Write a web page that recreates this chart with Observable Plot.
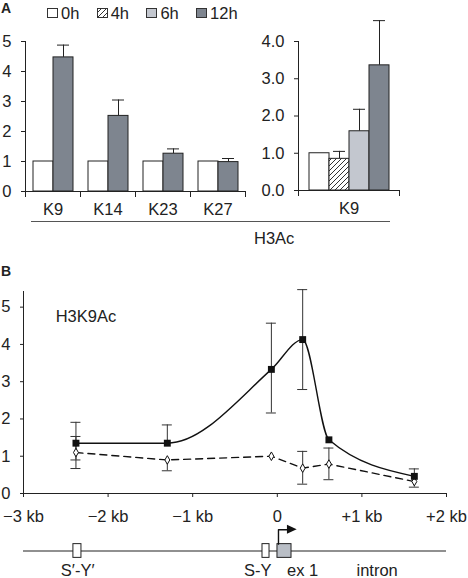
<!DOCTYPE html>
<html><head><meta charset="utf-8">
<script src="https://cdn.jsdelivr.net/npm/d3@7"></script>
<script src="https://cdn.jsdelivr.net/npm/@observablehq/plot@0.6"></script>
<style>
body{margin:0;background:#fff;font-family:"Liberation Sans",Arial,sans-serif;color:#222;}
#fig{position:relative;width:468px;height:578px;overflow:hidden;background:#fff}
.panel{font-weight:bold;font-size:14px;line-height:14px}
#legend{display:flex;font-size:16.5px;line-height:18px;white-space:nowrap}
#legend .item{display:inline-flex;align-items:center;width:49.7px}
#legend svg{margin-right:3px;display:block}
</style></head><body><div id="fig"></div>
<script>
// ---- Panel A (left): fold change per lysine, 0h vs 12h
const groupsA = ["K9", "K14", "K23", "K27"];
const valuesA0h = [1, 1, 1, 1];
const valuesA12h = [4.47, 2.52, 1.26, 0.98];
const errA12h = [4.88, 3.05, 1.42, 1.10];
const yTicksA = [0, 1, 2, 3, 4, 5];

// ---- Panel A (right): K9 time course
const groupK9 = ["K9"];
const timesK9 = ["0h", "4h", "6h", "12h"];
const valuesK9 = [1.0, 0.85, 1.59, 3.36];
const errK9 = [null, 1.05, 2.18, 4.56];
const yTicksK9 = [0, 1, 2, 3, 4];

// ---- Legend
const legendTimes = ["0h", "4h", "6h", "12h"];
const legendFills = ["#ffffff", "url(#hatch)", "#c3c7cf", "#7e858f"];

// ---- Panel B: H3K9Ac across the promoter
const posKb = [-2.38, -1.30, -0.07, 0.30, 0.61, 1.62];
const h3k9_12h = [1.35, 1.35, 3.33, 4.13, 1.44, 0.46];
const h3k9_12h_lo = [0.90, null, 2.16, 2.79, null, null];
const h3k9_12h_hi = [1.91, 1.84, 4.57, 5.47, null, 0.66];
const h3k9_0h = [1.10, 0.90, 1.00, 0.68, 0.79, 0.32];
const h3k9_0h_lo = [0.67, 0.61, null, 0.25, 0.37, 0.17];
const h3k9_0h_hi = [1.53, null, null, 1.13, 1.22, null];
const xTickValues = [-3, -2, -1, 0, 1, 2];
const xTickLabels = ["\u22123 kb", "\u22122 kb", "\u22121 kb", "0", "+1 kb", "+2 kb"];
const yTicksB = [0, 1, 2, 3, 4, 5];
const labelB = ["H3K9Ac"];
const labelBPos = [-2.62, 4.73];

// ---- Gene diagram
const featNames = ["S\u2032-Y\u2032", "S-Y", "ex 1"];
const featStart = [-2.41, -0.175, 0.002];
const featEnd = [-2.315, -0.092, 0.168];
const featFill = ["#ffffff", "#ffffff", "#b9bec6"];
const geneLabels = ["S\u2032-Y\u2032", "S-Y", "ex 1", "intron"];
const geneLabelX = [-2.36, -0.23, 0.30, 1.18];
const arrowX = [0.014, 0.014, 0.13];
const arrowY = [0.5, 1.55, 1.55];
const arrowHeadX = [0.12, 0.235];
const arrowHeadY1 = [1.22, 1.55];
const arrowHeadY2 = [1.88, 1.55];

const FONT = '"Liberation Sans", Arial, sans-serif';
const FS = "16.5px";
const ink = "#222";
const baseStyle = {fontFamily: FONT, fontSize: FS, color: ink, background: "transparent", overflow: "visible"};
const fig = document.getElementById("fig");

function place(el, left, top) {
  el.style.position = "absolute";
  el.style.left = left + "px";
  el.style.top = top + "px";
  fig.appendChild(el);
  return el;
}

function barPanel(rows, groups, times, yTicks, yFormat, d) {
  return Plot.plot({
    width: d.width, height: 225, marginTop: 41, marginBottom: d.mb,
    marginLeft: d.ml, marginRight: d.mr,
    style: baseStyle,
    facet: {data: rows, x: "group"},
    fx: {domain: groups, padding: 0, axis: "bottom", tickSize: 0, tickPadding: 12, label: null},
    x: {domain: times, paddingInner: 0, paddingOuter: d.po, axis: null},
    y: {domain: [yTicks[0], yTicks[yTicks.length - 1]], ticks: yTicks, tickFormat: yFormat,
        tickSize: 4, tickPadding: 10, line: true, label: null},
    color: {domain: legendTimes, range: legendFills},
    marks: [
      Plot.ruleX(rows, {filter: r => r.err != null, x: "time", y1: "value", y2: "err", stroke: ink}),
      Plot.tickY(rows, {filter: r => r.err != null, x: "time", y: "err", stroke: ink, insetLeft: 4, insetRight: 4}),
      Plot.barY(rows, {x: "time", y: "value", fill: "time", stroke: ink, strokeWidth: 1}),
      Plot.ruleY([0], {stroke: ink}),
      Plot.frame({anchor: "left", insetTop: d.ph, insetBottom: -5, stroke: ink}),
      Plot.frame({anchor: "right", insetTop: d.ph, insetBottom: -5, stroke: ink})
    ]
  });
}

// Left bar panel
const rowsA = groupsA.flatMap((g, i) => [
  {group: g, time: "0h", value: valuesA0h[i], err: null},
  {group: g, time: "12h", value: valuesA12h[i], err: errA12h[i]}
]);
const svgA = barPanel(rowsA, groupsA, ["0h", "12h"], yTicksA, d3.format("d"),
  {width: 250, mb: 34, ml: 24, mr: 5, po: 0.34, ph: 150});
// hatch pattern definition
d3.select(svgA).insert("defs", ":first-child").html(
  '<pattern id="hatch" patternUnits="userSpaceOnUse" width="5" height="5">' +
  '<rect width="5" height="5" fill="#fff"></rect>' +
  '<path d="M-1,1 L1,-1 M0,5 L5,0 M4,6 L6,4" stroke="#333" stroke-width="1"></path></pattern>');
place(svgA, 0, 0);

// Right bar panel
const rowsK9 = timesK9.map((t, i) => ({group: groupK9[0], time: t, value: valuesK9[i], err: errK9[i]}));
const svgK9 = barPanel(rowsK9, groupK9, timesK9, yTicksK9, d3.format(".1f"),
  {width: 160, mb: 35, ml: 48, mr: 11, po: 0.46, ph: 149});
place(svgK9, 250, 0);

// Legend (swatches use the same fills as the color scale)
const legWrap = document.createElement("div");
legWrap.id = "legend";
const colorScale = svgA.scale ? svgA.scale("color") : null;
legendTimes.forEach((t, i) => {
  const item = document.createElement("span");
  item.className = "item";
  const fill = colorScale ? colorScale.apply(t) : legendFills[i];
  item.innerHTML = `<svg width="11" height="10"><rect x="0.5" y="0.5" width="10" height="9" fill="${fill}" stroke="#333"></rect></svg>`;
  item.appendChild(document.createTextNode(t));
  legWrap.appendChild(item);
});
place(legWrap, 47, 4);

// Panel letters and H3Ac grouping line
const la = document.createElement("div"); la.className = "panel"; la.textContent = "A"; place(la, 1, 1);
const lb = document.createElement("div"); lb.className = "panel"; lb.textContent = "B"; place(lb, 1, 264);
const uline = document.createElement("div");
uline.style.cssText = "width:359px;height:0;border-top:1px solid #555";
place(uline, 31, 221);
const h3ac = document.createElement("div");
h3ac.style.cssText = "font-size:16.5px;line-height:16px";
h3ac.textContent = "H3Ac";
place(h3ac, 254, 230);

// Panel B
const pts = posKb.map((x, i) => ({x, v12: h3k9_12h[i], v0: h3k9_0h[i]}));
const errRows = [];
const capRows = [];
posKb.forEach((x, i) => {
  [[h3k9_12h[i], h3k9_12h_lo[i], h3k9_12h_hi[i]], [h3k9_0h[i], h3k9_0h_lo[i], h3k9_0h_hi[i]]].forEach(([v, lo, hi]) => {
    if (lo == null && hi == null) return;
    errRows.push({x, lo: lo ?? v, hi: hi ?? v});
    if (lo != null) capRows.push({x, y: lo});
    if (hi != null) capRows.push({x, y: hi});
  });
});
const svgB = Plot.plot({
  width: 468, height: 258, marginTop: 21, marginBottom: 35, marginLeft: 23, marginRight: 22,
  style: baseStyle,
  x: {domain: [-3, 2], ticks: xTickValues, tickFormat: v => xTickLabels[xTickValues.indexOf(v)],
      tickSize: 4, tickPadding: 13, line: true, label: null},
  y: {domain: [0, 5.42], ticks: yTicksB, tickFormat: d3.format("d"), tickSize: 3, tickPadding: 10, line: true, label: null},
  marks: [
    Plot.line(pts, {x: "x", y: "v12", curve: "monotone-x", stroke: "#111", strokeWidth: 1.4}),
    Plot.line(pts, {x: "x", y: "v0", stroke: "#111", strokeWidth: 1.4, strokeDasharray: "7,5"}),
    Plot.ruleX(errRows, {x: "x", y1: "lo", y2: "hi", stroke: "#333"}),
    Plot.ruleY(capRows, {y: "y", x1: "x", x2: "x", insetLeft: -5, insetRight: -5, stroke: "#333"}),
    Plot.dot(pts, {x: "x", y: "v0", symbol: "diamond", r: 2.6, fill: "white", stroke: "#111", strokeWidth: 1}),
    Plot.dot(pts, {x: "x", y: "v12", symbol: "square", r: 3.9, fill: "#111", stroke: "none"}),
    Plot.text(labelB, {x: labelBPos[0], y: labelBPos[1], text: d => d, textAnchor: "start", fontSize: 16.5, fill: ink})
  ]
});
place(svgB, 0, 270);

// Gene diagram
const feats = featNames.map((n, i) => ({name: n, start: featStart[i], end: featEnd[i], fill: featFill[i]}));
const arrowPts = arrowX.map((x, i) => ({x, y: arrowY[i]}));
const headPts = arrowHeadX.map((x, i) => ({x, y1: arrowHeadY1[i], y2: arrowHeadY2[i]}));
const gLabels = geneLabels.map((t, i) => ({t, x: geneLabelX[i]}));
const svgG = Plot.plot({
  width: 468, height: 55, marginTop: 0, marginBottom: 0, marginLeft: 23, marginRight: 22,
  style: baseStyle,
  x: {domain: [-3, 2], axis: null},
  y: {domain: [-2, 2], axis: null},
  color: {type: "identity"},
  marks: [
    Plot.ruleY([0], {stroke: ink, strokeWidth: 1.2}),
    Plot.rect(feats, {x1: "start", x2: "end", y1: -0.5, y2: 0.5, fill: "fill", stroke: ink}),
    Plot.line(arrowPts, {x: "x", y: "y", stroke: "#111", strokeWidth: 1.4}),
    Plot.areaY(headPts, {x: "x", y1: "y1", y2: "y2", fill: "#111"}),
    Plot.text(gLabels, {x: "x", y: -1.4, text: "t", fontSize: 16.5, fill: ink})
  ]
});
place(svgG, 0, 523);
</script></body></html>
